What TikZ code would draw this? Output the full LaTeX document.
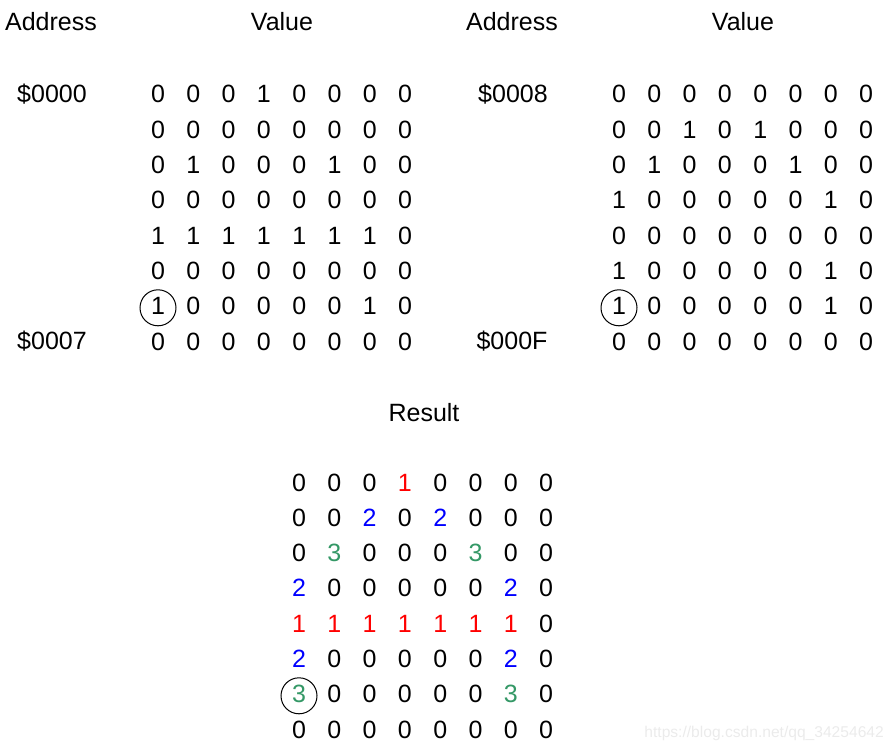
\documentclass[tikz,border=0pt]{standalone}
\usepackage{fontspec}
\setmainfont{Liberation Sans}
\definecolor{sgreen}{RGB}{52,152,102}
\tikzset{
  cell/.style={inner sep=0pt,text height=18pt,text depth=0pt,anchor=center,
    font=\fontsize{25}{30}\selectfont},
  ring/.style={draw=black,line width=1pt,circle,minimum size=36pt,inner sep=0pt},
  wmark/.style={inner sep=0pt,anchor=east,text=black!8,font=\fontsize{15.6}{18}\selectfont}
}
\newcommand\cellrow[5]{% prefix, x0, y, row, list of colour/value
  \foreach \s/\v [count=\c from 0] in {#5}{
    \node[cell,\s] (#1-#4-\c) at ({#2+35.3*\c},#3) {\v};
  }}
\begin{document}
\begin{tikzpicture}[x=1pt,y=-1pt]
\useasboundingbox (0,0) rectangle (895,751);
% headers
\node[cell] (hA1) at (51,22) {Address};
\node[cell] (hV1) at (282,22) {Value};
\node[cell] (hA2) at (512,22) {Address};
\node[cell] (hV2) at (743,22) {Value};
\node[cell] (hR) at (424,412) {Result};
% addresses
\node[cell] (a0) at (52,94) {\$0000};
\node[cell] (a7) at (52,341) {\$0007};
\node[cell] (a8) at (513,94) {\$0008};
\node[cell] (aF) at (512,341) {\$000F};
% left matrix
\cellrow{L}{158}{94}{0}{black/0,black/0,black/0,black/1,black/0,black/0,black/0,black/0}
\cellrow{L}{158}{129.3}{1}{black/0,black/0,black/0,black/0,black/0,black/0,black/0,black/0}
\cellrow{L}{158}{164.6}{2}{black/0,black/1,black/0,black/0,black/0,black/1,black/0,black/0}
\cellrow{L}{158}{199.9}{3}{black/0,black/0,black/0,black/0,black/0,black/0,black/0,black/0}
\cellrow{L}{158}{235.2}{4}{black/1,black/1,black/1,black/1,black/1,black/1,black/1,black/0}
\cellrow{L}{158}{270.5}{5}{black/0,black/0,black/0,black/0,black/0,black/0,black/0,black/0}
\cellrow{L}{158}{305.8}{6}{black/1,black/0,black/0,black/0,black/0,black/0,black/1,black/0}
\cellrow{L}{158}{341.1}{7}{black/0,black/0,black/0,black/0,black/0,black/0,black/0,black/0}
% right matrix
\cellrow{R}{619}{94}{0}{black/0,black/0,black/0,black/0,black/0,black/0,black/0,black/0}
\cellrow{R}{619}{129.3}{1}{black/0,black/0,black/1,black/0,black/1,black/0,black/0,black/0}
\cellrow{R}{619}{164.6}{2}{black/0,black/1,black/0,black/0,black/0,black/1,black/0,black/0}
\cellrow{R}{619}{199.9}{3}{black/1,black/0,black/0,black/0,black/0,black/0,black/1,black/0}
\cellrow{R}{619}{235.2}{4}{black/0,black/0,black/0,black/0,black/0,black/0,black/0,black/0}
\cellrow{R}{619}{270.5}{5}{black/1,black/0,black/0,black/0,black/0,black/0,black/1,black/0}
\cellrow{R}{619}{305.8}{6}{black/1,black/0,black/0,black/0,black/0,black/0,black/1,black/0}
\cellrow{R}{619}{341.1}{7}{black/0,black/0,black/0,black/0,black/0,black/0,black/0,black/0}
% result matrix
\cellrow{S}{299}{482}{0}{black/0,black/0,black/0,red/1,black/0,black/0,black/0,black/0}
\cellrow{S}{299}{517.3}{1}{black/0,black/0,blue/2,black/0,blue/2,black/0,black/0,black/0}
\cellrow{S}{299}{552.6}{2}{black/0,sgreen/3,black/0,black/0,black/0,sgreen/3,black/0,black/0}
\cellrow{S}{299}{587.9}{3}{blue/2,black/0,black/0,black/0,black/0,black/0,blue/2,black/0}
\cellrow{S}{299}{623.2}{4}{red/1,red/1,red/1,red/1,red/1,red/1,red/1,black/0}
\cellrow{S}{299}{658.5}{5}{blue/2,black/0,black/0,black/0,black/0,black/0,blue/2,black/0}
\cellrow{S}{299}{693.8}{6}{sgreen/3,black/0,black/0,black/0,black/0,black/0,sgreen/3,black/0}
\cellrow{S}{299}{729.1}{7}{black/0,black/0,black/0,black/0,black/0,black/0,black/0,black/0}
% circles
\node[ring] (cL) at ([yshift=-2pt]L-6-0.center) {};
\node[ring] (cR) at ([yshift=-2pt]R-6-0.center) {};
\node[ring] (cS) at ([yshift=-2pt]S-6-0.center) {};
% watermark
\node[wmark] (wm) at (884,733) {https://blog.csdn.net/qq\_34254642};
\end{tikzpicture}
\end{document}
